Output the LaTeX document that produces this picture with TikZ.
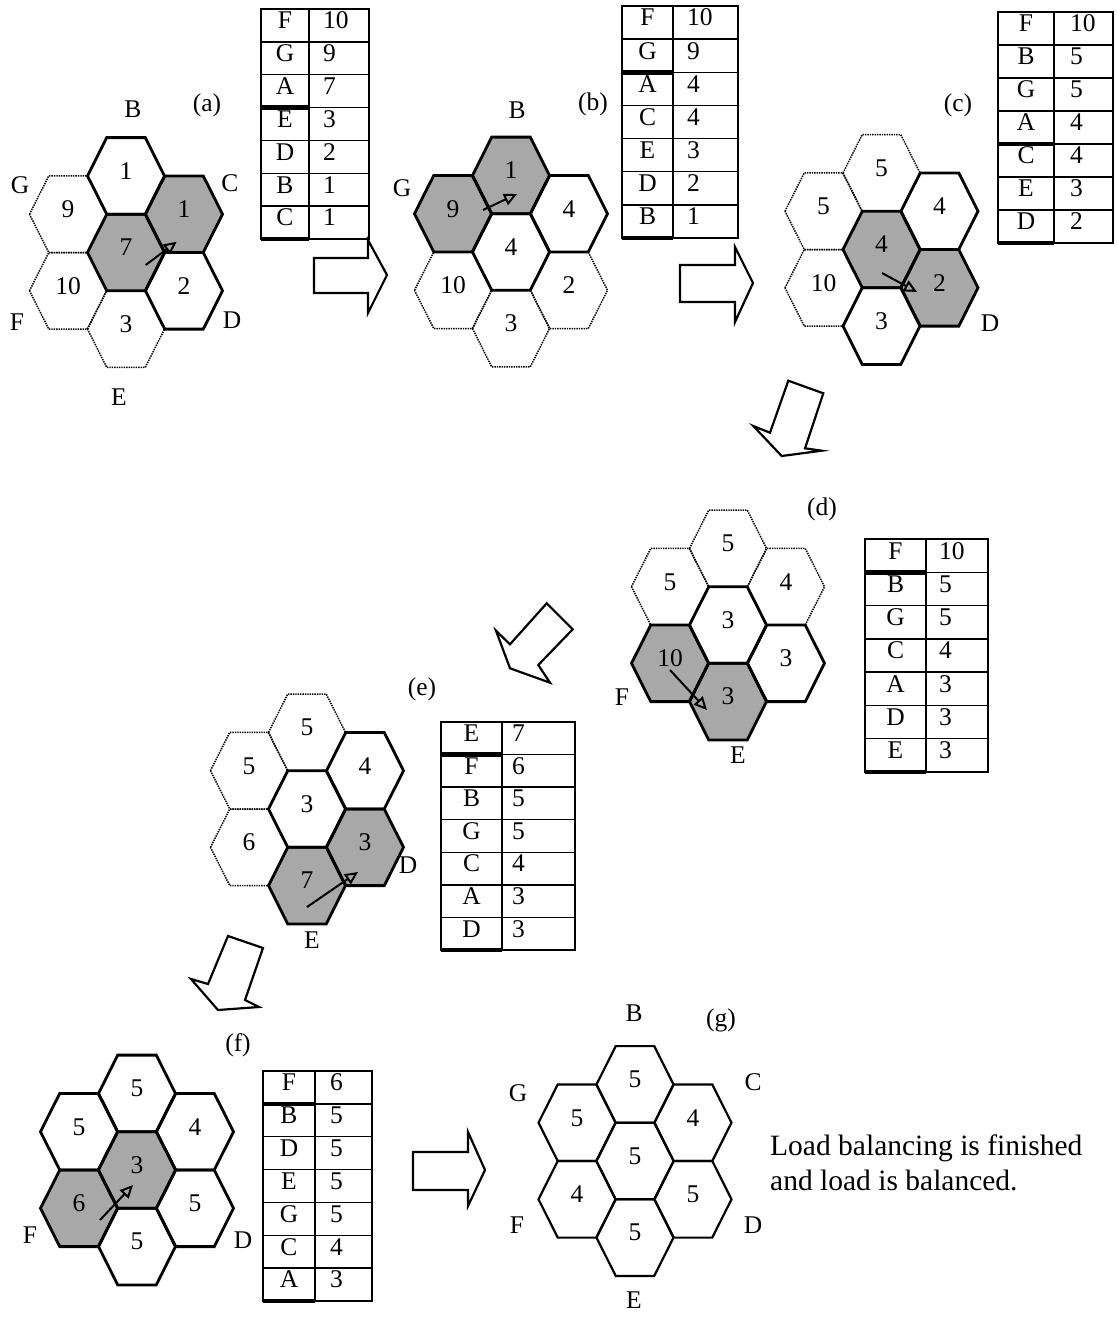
\documentclass[tikz,border=0pt]{standalone}
\usepackage{fontspec}
\setmainfont{Liberation Serif}
\usetikzlibrary{arrows.meta}
\definecolor{shadegray}{gray}{0.66}
\tikzset{
  every node/.style={font=\fontsize{25.5}{30}\selectfont, inner sep=0pt},
  txt/.style={text height=0.67em, text depth=0pt},
  lbl/.style={text height=0.67em, text depth=0pt},
  hexsolid/.style={line width=2.8pt, line join=miter},
  hexdot/.style={line width=1.5pt, dash pattern=on 1.4pt off 1.0pt},
  hexthin/.style={line width=2.2pt, line join=miter},
  shaded/.style={fill=shadegray},
  tbl/.style={line width=1.5pt},
  tblbar/.style={line width=4.5pt},
  flow/.style={line width=2.2pt, line join=miter},
  mv/.style={line width=2pt, -{Triangle[open, length=13pt, width=12pt, line width=2pt]}},
  endtext/.style={font=\fontsize{29.5}{34}\selectfont, anchor=base west},
}
% cell centres of one 7-cell cluster
\newcommand{\cells}[3]{%
  \coordinate (#1C) at (#2,#3);
  \coordinate (#1T) at (#2,#3-76.6);
  \coordinate (#1B) at (#2,#3+76.6);
  \coordinate (#1UR) at (#2+58,#3-38.3);
  \coordinate (#1LR) at (#2+58,#3+38.3);
  \coordinate (#1UL) at (#2-58,#3-38.3);
  \coordinate (#1LL) at (#2-58,#3+38.3);
}
\newcommand{\hexpath}[2]{\path[#2] (#1) +(-38.5,0) -- +(-19.25,-38.3) -- +(19.25,-38.3) -- +(38.5,0) -- +(19.25,38.3) -- +(-19.25,38.3) -- cycle;}
\newcommand{\cellnums}[8]{%
  \node[txt] (#1Tn) at (#1T) {#2};
  \node[txt] (#1ULn) at (#1UL) {#3};
  \node[txt] (#1URn) at (#1UR) {#4};
  \node[txt] (#1Cn) at (#1C) {#5};
  \node[txt] (#1LLn) at (#1LL) {#6};
  \node[txt] (#1LRn) at (#1LR) {#7};
  \node[txt] (#1Bn) at (#1B) {#8};
}
% table: name, left, divider, right, top, bottom, bar row, entries ; \vpad set before
\newcommand{\loadtable}[8]{%
  \pgfmathsetmacro\rh{(#6-#5)/7}
  \draw[tbl] (#2,#5) rectangle (#4,#6);
  \draw[tbl] (#3,#5) -- (#3,#6);
  \foreach \k in {1,...,6} {\draw[tbl] (#2,{#5+\k*\rh}) -- (#4,{#5+\k*\rh});}
  \foreach [count=\k] \a/\b in {#8} {
    \node[txt] (#1l\k) at ({(#2+#3)/2},{#5+(\k-0.5)*\rh}) {\a};
    \node[txt, anchor=west] (#1v\k) at ({#3+\vpad},{#5+(\k-0.5)*\rh}) {\b};
  }
  \draw[tblbar] (#2,{#5+#7*\rh}) -- (#3,{#5+#7*\rh});
  \draw[tblbar] (#2,#6) -- (#3,#6);
}
\begin{document}
\begin{tikzpicture}[x=1pt,y=-1pt]
\useasboundingbox (0,0) rectangle (1117,1318);

% ================= (a)
\cells{a}{126}{252.5}
\hexpath{aC}{shaded}\hexpath{aUR}{shaded}
\hexpath{aUL}{draw,hexdot}\hexpath{aLL}{draw,hexdot}\hexpath{aB}{draw,hexdot}
\hexpath{aT}{draw,hexsolid}\hexpath{aC}{draw,hexsolid}\hexpath{aUR}{draw,hexsolid}\hexpath{aLR}{draw,hexsolid}
\cellnums{a}{1}{9}{1}{7}{10}{2}{3}
\coordinate (a1) at (145.7,265); \coordinate (a2) at (176.7,241.7);
\draw[mv] (a1) -- (a2);
\node[lbl] (aB0) at (133,114) {B};
\node[lbl] (aN) at (207,108) {(a)};
\node[lbl] (aG0) at (20,190) {G};
\node[lbl] (aC0) at (230,188) {C};
\node[lbl] (aF0) at (17,327) {F};
\node[lbl] (aD0) at (232,325) {D};
\node[lbl] (aE0) at (119,402) {E};
\def\vpad{14}
\loadtable{ta}{261}{309}{369}{9}{239}{3}{F/10,G/9,A/7,E/3,D/2,B/1,C/1}

% arrow a -> b
\draw[flow] (314,258) -- (368,258) -- (368,240) -- (387,275) -- (368,313) -- (368,293) -- (314,293) -- cycle;

% ================= (b)
\cells{b}{511}{252}
\hexpath{bT}{shaded}\hexpath{bUL}{shaded}
\hexpath{bLL}{draw,hexdot}\hexpath{bB}{draw,hexdot}\hexpath{bLR}{draw,hexdot}
\hexpath{bT}{draw,hexsolid}\hexpath{bUL}{draw,hexsolid}\hexpath{bC}{draw,hexsolid}\hexpath{bUR}{draw,hexsolid}
\cellnums{b}{1}{9}{4}{4}{10}{2}{3}
\coordinate (b1) at (483,210); \coordinate (b2) at (517,194);
\draw[mv] (b1) -- (b2);
\node[lbl] (bB0) at (517,115) {B};
\node[lbl] (bG0) at (402,193) {G};
\node[lbl] (bN) at (593,107) {(b)};
\def\vpad{14}
\loadtable{tb}{622}{673}{738}{6}{238}{2}{F/10,G/9,A/4,C/4,E/3,D/2,B/1}

% arrow b -> c
\draw[flow] (680,265) -- (735,265) -- (735,247) -- (753,283) -- (735,322) -- (735,302) -- (680,302) -- cycle;

% ================= (c)
\cells{c}{881.5}{249.5}
\hexpath{cC}{shaded}\hexpath{cLR}{shaded}
\hexpath{cT}{draw,hexdot}\hexpath{cUL}{draw,hexdot}\hexpath{cLL}{draw,hexdot}
\hexpath{cC}{draw,hexsolid}\hexpath{cUR}{draw,hexsolid}\hexpath{cLR}{draw,hexsolid}\hexpath{cB}{draw,hexsolid}
\cellnums{c}{5}{5}{4}{4}{10}{2}{3}
\coordinate (c1) at (882,273); \coordinate (c2) at (917,292);
\draw[mv] (c1) -- (c2);
\node[lbl] (cN) at (958,108) {(c)};
\node[lbl] (cD0) at (990,328) {D};
\def\vpad{16}
\loadtable{tc}{998}{1054}{1113}{12}{243}{4}{F/10,B/5,G/5,A/4,C/4,E/3,D/2}

% arrow c -> d
\draw[flow] (788.3,380.7) -- (823.3,393.3) -- (805,448.3) -- (821.7,450.7) -- (781.7,456) -- (753.3,426) -- (770,432.7) -- cycle;

% ================= (d)
\cells{d}{728}{625}
\hexpath{dLL}{shaded}\hexpath{dB}{shaded}
\hexpath{dT}{draw,hexdot}\hexpath{dUL}{draw,hexdot}\hexpath{dUR}{draw,hexdot}
\hexpath{dC}{draw,hexsolid}\hexpath{dLL}{draw,hexsolid}\hexpath{dB}{draw,hexsolid}\hexpath{dLR}{draw,hexsolid}
\cellnums{d}{5}{5}{4}{3}{10}{3}{3}
\coordinate (d1) at (670,670); \coordinate (d2) at (707,710);
\draw[mv] (d1) -- (d2);
\node[lbl] (dN) at (822,512) {(d)};
\node[lbl] (dF0) at (622,702) {F};
\node[lbl] (dE0) at (738,760) {E};
\def\vpad{13}
\loadtable{td}{865}{926}{988}{539}{772}{1}{F/10,B/5,G/5,C/4,A/3,D/3,E/3}

% arrow d -> e
\draw[flow] (546.7,603.3) -- (572.7,629.3) -- (538.3,665) -- (550,682.7) -- (510,668.3) -- (496,630.7) -- (510,644.3) -- cycle;

% ================= (e)
\cells{e}{307}{809}
\hexpath{eLR}{shaded}\hexpath{eB}{shaded}
\hexpath{eT}{draw,hexdot}\hexpath{eUL}{draw,hexdot}\hexpath{eLL}{draw,hexdot}
\hexpath{eUR}{draw,hexsolid}\hexpath{eC}{draw,hexsolid}\hexpath{eLR}{draw,hexsolid}\hexpath{eB}{draw,hexsolid}
\cellnums{e}{5}{5}{4}{3}{6}{3}{7}
\coordinate (e1) at (307,907); \coordinate (e2) at (358,872);
\draw[mv] (e1) -- (e2);
\node[lbl] (eN) at (422,692) {(e)};
\node[lbl] (eD0) at (408,870) {D};
\node[lbl] (eE0) at (312,945) {E};
\def\vpad{10}
\loadtable{te}{441}{502}{575}{722}{950}{1}{E/7,F/6,B/5,G/5,C/4,A/3,D/3}

% arrow e -> f
\draw[flow] (228,936) -- (263,948) -- (245,1000) -- (259,1007) -- (218,1010) -- (191,979) -- (208,984) -- cycle;

% ================= (f)
\cells{f}{137}{1170}
\hexpath{fC}{shaded}\hexpath{fLL}{shaded}
\hexpath{fT}{draw,hexsolid}\hexpath{fUL}{draw,hexsolid}\hexpath{fUR}{draw,hexsolid}\hexpath{fC}{draw,hexsolid}
\hexpath{fLL}{draw,hexsolid}\hexpath{fLR}{draw,hexsolid}\hexpath{fB}{draw,hexsolid}
\cellnums{f}{5}{5}{4}{3}{6}{5}{5}
\coordinate (f1) at (100,1220); \coordinate (f2) at (133,1185);
\draw[mv] (f1) -- (f2);
\node[lbl] (fN) at (238,1048) {(f)};
\node[lbl] (fF0) at (30,1240) {F};
\node[lbl] (fD0) at (243,1245) {D};
\def\vpad{15}
\loadtable{tf}{263}{315}{372}{1071}{1301}{1}{F/6,B/5,D/5,E/5,G/5,C/4,A/3}

% arrow f -> g
\draw[flow] (413,1152) -- (468,1152) -- (468,1132) -- (485,1170) -- (468,1206) -- (468,1190) -- (413,1190) -- cycle;

% ================= (g)
\cells{g}{635}{1161}
\hexpath{gT}{draw,hexthin}\hexpath{gUL}{draw,hexthin}\hexpath{gUR}{draw,hexthin}\hexpath{gC}{draw,hexthin}
\hexpath{gLL}{draw,hexthin}\hexpath{gLR}{draw,hexthin}\hexpath{gB}{draw,hexthin}
\cellnums{g}{5}{5}{4}{5}{4}{5}{5}
\node[lbl] (gB0) at (634,1018) {B};
\node[lbl] (gN) at (721,1023) {(g)};
\node[lbl] (gG0) at (518,1098) {G};
\node[lbl] (gC0) at (753,1087) {C};
\node[lbl] (gF0) at (517,1230) {F};
\node[lbl] (gD0) at (753,1230) {D};
\node[lbl] (gE0) at (634,1305) {E};
\node[endtext] (msg1) at (770,1155) {Load balancing is finished};
\node[endtext] (msg2) at (770,1190) {and load is balanced.};
\end{tikzpicture}
\end{document}
